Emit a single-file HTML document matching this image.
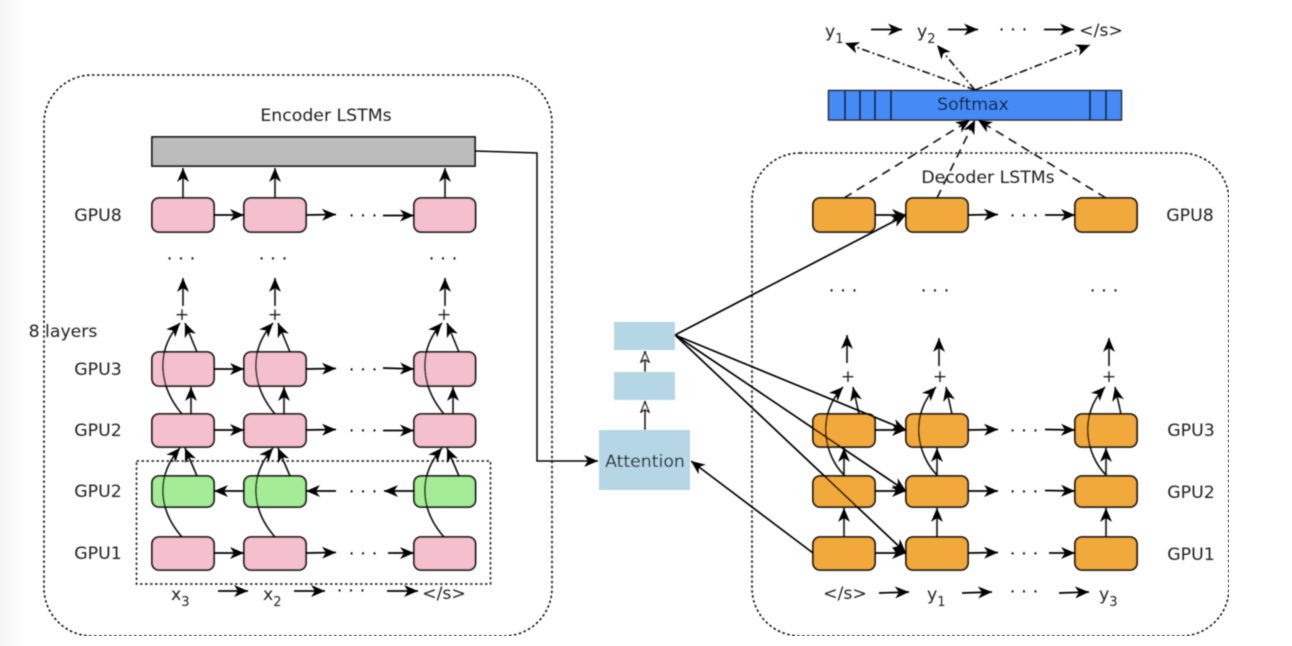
<!DOCTYPE html>
<html><head><meta charset="utf-8"><title>Encoder Decoder</title>
<style>html,body{margin:0;padding:0;background:#fff;width:1292px;height:646px;overflow:hidden}svg{display:block}
text{font-family:"DejaVu Sans",sans-serif;fill:#222;font-size:17.3px}
.m{text-anchor:middle;dominant-baseline:central}
.s{font-size:13px}
.d{font-size:18px;text-anchor:middle;dominant-baseline:central;fill:#111}
.l{fill:none;stroke:#000;stroke-width:1.7;marker-end:url(#a)}
.t{fill:none;stroke:#111;stroke-width:1.6;marker-end:url(#a)}
.pk{fill:#f5c0cd;stroke:#111;stroke-width:1.8}
.gr{fill:#a4ec96;stroke:#111;stroke-width:1.8}
.or{fill:#f2a93b;stroke:#111;stroke-width:1.8}
</style></head><body>
<svg width="1292" height="646" viewBox="0 0 1292 646" xmlns="http://www.w3.org/2000/svg">
<defs>
<linearGradient id="bg" x1="0" x2="1" y1="0" y2="0"><stop offset="0" stop-color="#f5f5f5"/><stop offset="1" stop-color="#fff"/></linearGradient>
<marker id="a" markerUnits="userSpaceOnUse" markerWidth="15" markerHeight="14" refX="14" refY="7" orient="auto"><path d="M14,7 L0,1 L4,7 L0,13 Z" fill="#000"/></marker>
<marker id="o" markerUnits="userSpaceOnUse" markerWidth="14" markerHeight="12" refX="12" refY="5" orient="auto"><path d="M11,5 L1,1 L3.5,5 L1,9 Z" fill="#fff" stroke="#111" stroke-width="1.3"/></marker>
<filter id="b" x="0" y="0" width="100%" height="100%"><feGaussianBlur stdDeviation="0.45"/></filter>
<g id="ec1"><path class="t" d="M182,414 C160,388 154,352 180,323"/><path class="t" d="M197,352 L185,323"/><path class="t" d="M191,414 L191,387"/></g>
<g id="ec2"><path class="t" d="M182,537 C160,512 154,478 180,448"/><path class="t" d="M197,476 L185,448"/></g>
<g id="ec3"><path class="t" d="M183,198 L183,168"/><path class="t" d="M183,306 L183,278"/></g>
<g id="dc1"><path class="t" d="M844,475 C824,455 816,415 843,387"/><path class="t" d="M859,414 L853,387"/><path class="t" d="M844,476 L844,448"/><path class="t" d="M844,537 L844,508"/></g>
</defs>
<rect width="1292" height="646" fill="#fff"/>
<rect width="26" height="646" fill="url(#bg)"/>
<g filter="url(#b)">
<rect x="44" y="75" width="508" height="561" rx="48" fill="none" stroke="#111" stroke-width="1.6" stroke-dasharray="2.5 2.5"/>
<rect x="752" y="153" width="477" height="483" rx="48" fill="none" stroke="#111" stroke-width="1.6" stroke-dasharray="2.5 2.5"/>
<rect x="136.500" y="461" width="354" height="123" fill="none" stroke="#111" stroke-width="1.5" stroke-dasharray="2.5 2.5"/>
<rect x="152" y="137" width="323" height="29" fill="#bcbcbc" stroke="#111" stroke-width="1.8"/>

<!-- encoder nodes -->
<rect class="pk" x="152" y="198" width="62" height="34" rx="7"/><rect class="pk" x="244" y="198" width="62" height="34" rx="7"/><rect class="pk" x="414" y="198" width="61.500" height="34" rx="7"/>
<rect class="pk" x="152" y="352" width="62" height="34" rx="7"/><rect class="pk" x="244" y="352" width="62" height="34" rx="7"/><rect class="pk" x="414" y="352" width="61.500" height="34" rx="7"/>
<rect class="pk" x="152" y="414" width="62" height="33" rx="7"/><rect class="pk" x="244" y="414" width="62" height="33" rx="7"/><rect class="pk" x="414" y="414" width="61.500" height="33" rx="7"/>
<rect class="gr" x="152" y="476" width="62" height="31" rx="7"/><rect class="gr" x="244" y="476" width="62" height="31" rx="7"/><rect class="gr" x="414" y="476" width="61.500" height="31" rx="7"/>
<rect class="pk" x="152" y="537" width="62" height="33" rx="7"/><rect class="pk" x="244" y="537" width="62" height="33" rx="7"/><rect class="pk" x="414" y="537" width="61.500" height="33" rx="7"/>

<!-- decoder nodes -->
<rect class="or" x="813" y="198" width="62" height="34" rx="7"/><rect class="or" x="906" y="198" width="62" height="34" rx="7"/><rect class="or" x="1075" y="198" width="62" height="34" rx="7"/>
<rect class="or" x="813" y="414" width="62" height="33" rx="7"/><rect class="or" x="906" y="414" width="62" height="33" rx="7"/><rect class="or" x="1075" y="414" width="62" height="33" rx="7"/>
<rect class="or" x="813" y="476" width="62" height="31" rx="7"/><rect class="or" x="906" y="476" width="62" height="31" rx="7"/><rect class="or" x="1075" y="476" width="62" height="31" rx="7"/>
<rect class="or" x="813" y="537" width="62" height="33" rx="7"/><rect class="or" x="906" y="537" width="62" height="33" rx="7"/><rect class="or" x="1075" y="537" width="62" height="33" rx="7"/>

<!-- softmax -->
<rect x="828.500" y="90.500" width="293" height="29.500" fill="#458af5" stroke="#1a1a1a" stroke-width="1.4"/>
<path d="M845,90V120M860,90V120M875,90V120M891,90V120M1090,90V120M1106,90V120" stroke="#101b30" stroke-width="1.7" fill="none"/>

<!-- attention blocks -->
<rect x="599" y="430" width="91" height="60" fill="#b5d6e4"/>
<rect x="614" y="372" width="61" height="28" fill="#b5d6e4"/>
<rect x="614" y="322" width="61" height="28" fill="#b5d6e4"/>
<path d="M645,430 L645,401" stroke="#111" stroke-width="1.5" fill="none" marker-end="url(#o)"/>
<path d="M645,372 L645,351" stroke="#111" stroke-width="1.5" fill="none" marker-end="url(#o)"/>

<!-- encoder arrows -->
<use href="#ec1"/><use href="#ec1" x="93"/><use href="#ec1" x="262"/>
<use href="#ec2"/><use href="#ec2" x="93"/><use href="#ec2" x="262"/>
<use href="#ec3"/><use href="#ec3" x="92"/><use href="#ec3" x="262"/>
<path class="l" d="M214,215H244"/><path class="l" d="M306,215L336,214.500"/><path class="l" d="M383,215.500H414"/>
<path class="l" d="M214,369H244"/><path class="l" d="M306,369L336,368.500"/><path class="l" d="M383,368L414,369"/>
<path class="l" d="M214,430H244"/><path class="l" d="M306,430L336,429.500"/><path class="l" d="M383,430.500H414"/>
<path class="l" d="M244,491H214"/><path class="l" d="M336,491H306"/><path class="l" d="M414,491H384"/>
<path class="l" d="M214,553H244"/><path class="l" d="M306,553L336,552.500"/><path class="l" d="M388,553H414"/>
<path class="l" d="M218,591H248"/><path class="l" d="M294,591H325"/><path class="l" d="M387,591H418"/>
<path class="l" d="M475,151L537,153V461H598" style="stroke-width:1.5"/>

<!-- decoder arrows -->
<use href="#dc1"/><use href="#dc1" x="93"/><use href="#dc1" x="262"/>
<path class="t" d="M847,363V335"/><path class="t" d="M939,366V338"/><path class="t" d="M1109,366V338"/>
<path class="l" d="M875,215H906"/><path class="l" d="M968,215L998,214.500"/><path class="l" d="M1045,215H1075"/>
<path class="l" d="M875,430H906"/><path class="l" d="M968,430L998,429.500"/><path class="l" d="M1045,429.500L1075,430"/>
<path class="l" d="M875,491H906"/><path class="l" d="M968,491H998"/><path class="l" d="M1045,490.500L1075,491"/>
<path class="l" d="M875,553H906"/><path class="l" d="M968,553L998,552.500"/><path class="l" d="M1049,553H1075"/>
<path class="l" d="M879,593L909,592"/><path class="l" d="M962,593L992,592"/><path class="l" d="M1059,593L1089,592"/>
<path class="l" d="M675,335L906,215"/><path class="l" d="M675,335L906,430"/><path class="l" d="M675,335L906,491"/><path class="l" d="M675,335L906,553"/>
<path class="l" d="M813,553L691,461"/>

<!-- softmax connections -->
<g>
<path class="t" d="M844,198L970,120" stroke-dasharray="9 6"/><path class="t" d="M937,198L975,120" stroke-dasharray="9 6"/><path class="t" d="M1106,198L978,120" stroke-dasharray="9 6"/>
<path class="t" d="M975,90L845,43" stroke-dasharray="8 3 2 3"/><path class="t" d="M975,90L937,45" stroke-dasharray="8 3 2 3"/><path class="t" d="M975,90L1090,45" stroke-dasharray="8 3 2 3"/>
<path class="l" d="M871,29.500H902"/><path class="l" d="M948,29.500H978"/><path class="l" d="M1044,29.500H1074"/>
</g>

<!-- text -->
<text class="m" x="326" y="116">Encoder LSTMs</text>
<text class="m" x="988" y="178">Decoder LSTMs</text>
<text class="m" x="973" y="105" style="fill:#0a1830">Softmax</text>
<text class="m" x="645" y="462" style="fill:#111a20">Attention</text>
<text class="m" x="63" y="332">8 layers</text>
<text class="m" x="98" y="216">GPU8</text><text class="m" x="98" y="370">GPU3</text><text class="m" x="98" y="431">GPU2</text><text class="m" x="98" y="492">GPU2</text><text class="m" x="98" y="554">GPU1</text>
<text class="m" x="1190" y="216">GPU8</text><text class="m" x="1191" y="431">GPU3</text><text class="m" x="1191" y="493">GPU2</text><text class="m" x="1191" y="555">GPU1</text>
<text class="m" x="182" y="315">+</text><text class="m" x="275" y="315">+</text><text class="m" x="444" y="315">+</text>
<text class="m" x="848" y="377">+</text><text class="m" x="940" y="377">+</text><text class="m" x="1109" y="377">+</text>
<text class="d" x="181" y="259">· · ·</text><text class="d" x="273" y="259">· · ·</text><text class="d" x="443" y="259">· · ·</text>
<text class="d" x="363" y="216">· · ·</text><text class="d" x="363" y="370">· · ·</text><text class="d" x="363" y="431">· · ·</text><text class="d" x="363" y="492">· · ·</text><text class="d" x="363" y="554">· · ·</text><text class="d" x="351" y="591">· · ·</text>
<text class="d" x="843" y="291">· · ·</text><text class="d" x="935" y="291">· · ·</text><text class="d" x="1104" y="291">· · ·</text>
<text class="d" x="1024" y="216">· · ·</text><text class="d" x="1024" y="431">· · ·</text><text class="d" x="1024" y="492">· · ·</text><text class="d" x="1024" y="554">· · ·</text><text class="d" x="1024" y="592">· · ·</text><text class="d" x="1013" y="30">· · ·</text>
<text x="171" y="600">x<tspan class="s" dy="6">3</tspan></text>
<text x="263" y="600">x<tspan class="s" dy="6">2</tspan></text>
<text class="m" x="444" y="594">&lt;/s&gt;</text>
<text class="m" x="845" y="594">&lt;/s&gt;</text>
<text x="927" y="600">y<tspan class="s" dy="6">1</tspan></text>
<text x="1099" y="600">y<tspan class="s" dy="6">3</tspan></text>
<text x="825" y="37">y<tspan class="s" dy="6">1</tspan></text>
<text x="917" y="37">y<tspan class="s" dy="6">2</tspan></text>
<text class="m" x="1101" y="31">&lt;/s&gt;</text>
</g>
</svg>
</body></html>
